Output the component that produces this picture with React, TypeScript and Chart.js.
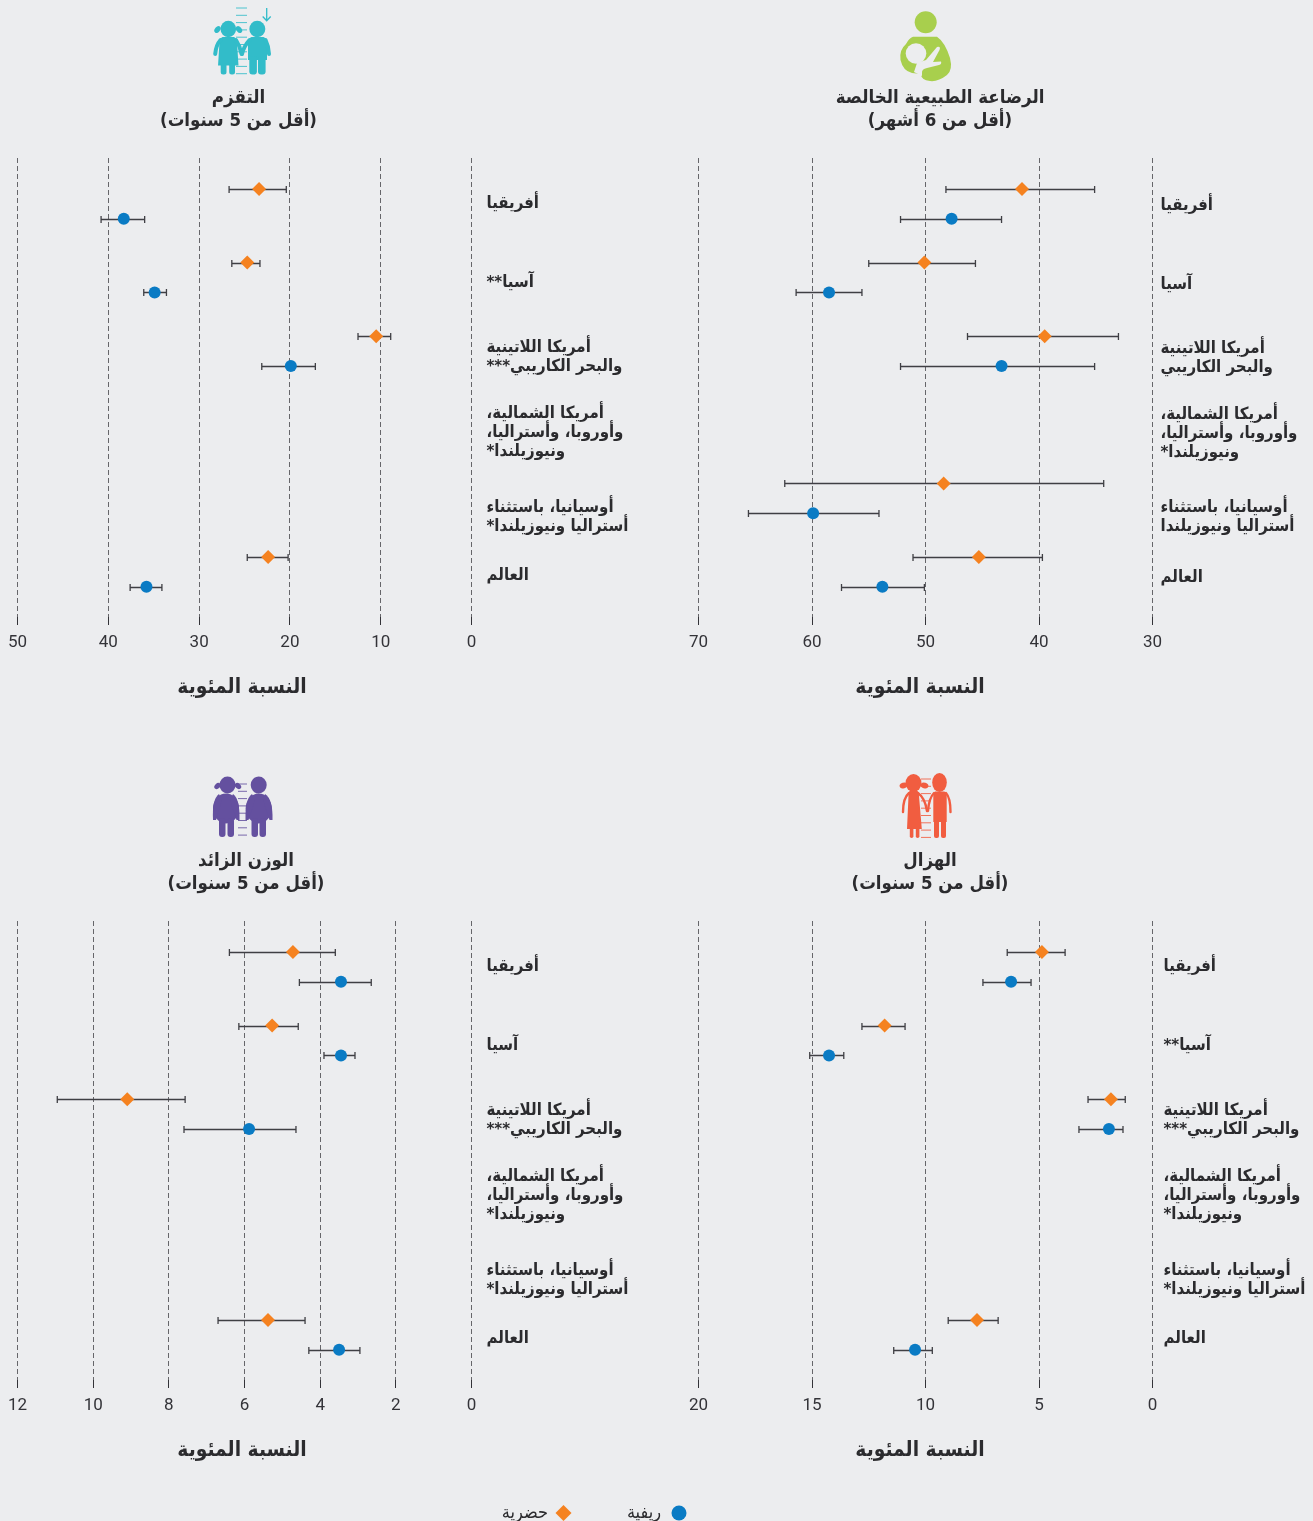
import React, { useEffect, useRef } from "react";
import { Chart, registerables } from "chart.js";

Chart.register(...registerables);

const BG = "#ecedef";
const ORANGE = "#f58220";
const BLUE = "#0a7bc4";
const TEXT = "#2b2b2e";
const ARABIC = '"DejaVu Sans Condensed", "DejaVu Sans", sans-serif';
const NUMERIC = "Roboto, sans-serif";

const stuntingLabels = [
  "أفريقيا", "آسيا**", ["أمريكا اللاتينية", "والبحر الكاريبي***"],
  ["أمريكا الشمالية،", "وأوروبا، وأستراليا،", "ونيوزيلندا*"],
  ["أوسيانيا، باستثناء", "أستراليا ونيوزيلندا*"], "العالم",
];
const breastfeedingLabels = [
  "أفريقيا", "آسيا", ["أمريكا اللاتينية", "والبحر الكاريبي"],
  ["أمريكا الشمالية،", "وأوروبا، وأستراليا،", "ونيوزيلندا*"],
  ["أوسيانيا، باستثناء", "أستراليا ونيوزيلندا"], "العالم",
];
const overweightLabels = [
  "أفريقيا", "آسيا", ["أمريكا اللاتينية", "والبحر الكاريبي***"],
  ["أمريكا الشمالية،", "وأوروبا، وأستراليا،", "ونيوزيلندا*"],
  ["أوسيانيا، باستثناء", "أستراليا ونيوزيلندا*"], "العالم",
];
const wastingLabels = stuntingLabels;

const labelRows = [0.205, 1.275, 2.285, 3.315, 4.455, 5.255];
const labelRowsBreastfeeding = [0.225, 1.305, 2.295, 3.325, 4.455, 5.285];

const stuntingUrban = [23.4, 24.7, 10.5, null, null, 22.4];
const stuntingUrbanLow = [20.4, 23.3, 8.9, null, null, 20.2];
const stuntingUrbanHigh = [26.7, 26.4, 12.5, null, null, 24.7];
const stuntingRural = [38.3, 34.9, 19.9, null, null, 35.8];
const stuntingRuralLow = [36.0, 33.6, 17.2, null, null, 34.1];
const stuntingRuralHigh = [40.8, 36.1, 23.1, null, null, 37.6];

const breastfeedingUrban = [41.5, 50.1, 39.5, null, 48.4, 45.3];
const breastfeedingUrbanLow = [35.1, 45.6, 33.0, null, 34.3, 39.7];
const breastfeedingUrbanHigh = [48.2, 55.0, 46.3, null, 62.4, 51.1];
const breastfeedingRural = [47.7, 58.5, 43.3, null, 59.9, 53.8];
const breastfeedingRuralLow = [43.3, 55.6, 35.1, null, 54.1, 50.1];
const breastfeedingRuralHigh = [52.2, 61.4, 52.2, null, 65.6, 57.4];

const overweightUrban = [4.72, 5.27, 9.1, null, null, 5.38];
const overweightUrbanLow = [3.6, 4.58, 7.57, null, null, 4.4];
const overweightUrbanHigh = [6.4, 6.15, 10.95, null, null, 6.7];
const overweightRural = [3.45, 3.45, 5.88, null, null, 3.5];
const overweightRuralLow = [2.65, 3.08, 4.64, null, null, 2.95];
const overweightRuralHigh = [4.55, 3.9, 7.6, null, null, 4.3];

const wastingUrban = [4.87, 11.8, 1.83, null, null, 7.73];
const wastingUrbanLow = [3.85, 10.9, 1.2, null, null, 6.8];
const wastingUrbanHigh = [6.4, 12.8, 2.84, null, null, 9.0];
const wastingRural = [6.23, 14.25, 1.92, null, null, 10.46];
const wastingRuralLow = [5.35, 13.6, 1.3, null, null, 9.7];
const wastingRuralHigh = [7.47, 15.1, 3.24, null, null, 11.4];

const AXIS_TITLE = "النسبة المئوية";
const URBAN_LABEL = "حضرية";
const RURAL_LABEL = "ريفية";

const RURAL_ROW_OFFSET = 0.405;

function points(values: any[], low: any[], high: any[], offset: number) {
  const out: any[] = [];
  values.forEach((v, i) => {
    if (v !== null) out.push({ x: v, y: i + offset, low: low[i], high: high[i] });
  });
  return out;
}

const whiskerPlugin = {
  id: "whiskers",
  beforeDatasetsDraw(chart: any) {
    const { ctx, scales } = chart;
    ctx.save();
    ctx.strokeStyle = "#3f3f44";
    ctx.lineWidth = 1.3;
    chart.data.datasets.forEach((ds: any) => {
      ds.data.forEach((p: any) => {
        const y = Math.round(scales.y.getPixelForValue(p.y)) + 0.5;
        const a = scales.x.getPixelForValue(p.low);
        const b = scales.x.getPixelForValue(p.high);
        ctx.beginPath();
        ctx.moveTo(a, y);
        ctx.lineTo(b, y);
        ctx.moveTo(a, y - 3.5);
        ctx.lineTo(a, y + 3.5);
        ctx.moveTo(b, y - 3.5);
        ctx.lineTo(b, y + 3.5);
        ctx.stroke();
      });
    });
    ctx.restore();
  },
};

function headerPlugin(panel: any) {
  return {
    id: "panelHeader",
    afterDraw(chart: any) {
      const { ctx } = chart;
      ctx.save();
      ctx.direction = "rtl";
      ctx.textAlign = "center";
      ctx.textBaseline = "middle";
      ctx.fillStyle = TEXT;
      ctx.font = `bold 18.5px ${ARABIC}`;
      ctx.fillText(panel.title[0], panel.titleX, 18);
      ctx.fillText(panel.title[1], panel.titleX, 41.5);
      ctx.font = `bold 20.8px ${ARABIC}`;
      ctx.fillText(AXIS_TITLE, panel.axisTitleX, 608);
      ctx.restore();
    },
  };
}

function Panel({ panel }: { panel: any }) {
  const ref = useRef<HTMLCanvasElement>(null);
  useEffect(() => {
    const chart = new Chart(ref.current as any, {
      type: "scatter",
      data: {
        datasets: [
          {
            label: URBAN_LABEL,
            data: points(panel.urban, panel.urbanLow, panel.urbanHigh, 0),
            pointStyle: "rectRot",
            pointRadius: 7,
            backgroundColor: ORANGE,
            borderWidth: 0,
          },
          {
            label: RURAL_LABEL,
            data: points(panel.rural, panel.ruralLow, panel.ruralHigh, RURAL_ROW_OFFSET),
            pointStyle: "circle",
            pointRadius: 6,
            backgroundColor: BLUE,
            borderWidth: 0,
          },
        ],
      } as any,
      plugins: [whiskerPlugin, headerPlugin(panel)],
      options: {
        animation: false,
        responsive: false,
        events: [],
        layout: { padding: { left: panel.plotLeft, top: 78, right: 0, bottom: 0 } },
        plugins: { legend: { display: false }, tooltip: { enabled: false }, title: { display: false } },
        scales: {
          x: {
            type: "linear",
            reverse: true,
            min: panel.min,
            max: panel.max,
            position: "bottom",
            afterFit(s: any) { s.height = 93; },
            border: { display: false, dash: [5, 3] },
            grid: { color: "#66666a", lineWidth: 1, drawTicks: true, tickLength: 8, tickColor: "#333338", tickWidth: 1 },
            ticks: {
              stepSize: panel.step,
              padding: 8,
              maxRotation: 0,
              color: "#333338",
              font: { family: NUMERIC, size: 17 },
            },
          },
          y: {
            type: "linear",
            reverse: true,
            position: "right",
            min: -0.421,
            max: 5.815,
            afterFit(s: any) { s.width = panel.width - panel.plotRight; },
            afterBuildTicks(s: any) { s.ticks = panel.rows.map((v: number) => ({ value: v })); },
            border: { display: false },
            grid: { display: false, drawTicks: false, tickLength: 0 },
            ticks: {
              autoSkip: false,
              padding: panel.labelGap,
              color: TEXT,
              font: { family: ARABIC, size: 16.7, weight: "bold", lineHeight: 1.13 },
              callback: (_v: any, i: number) => panel.labels[i],
            },
          },
        },
      } as any,
    });
    return () => chart.destroy();
  }, [panel]);
  return (
    <canvas
      ref={ref}
      dir="rtl"
      width={panel.width}
      height={630}
      style={{ position: "absolute", left: panel.left, top: panel.top, width: panel.width, height: 630 }}
    />
  );
}

const panels = [
  {
    key: "stunting", left: 0, top: 80, width: 656, plotLeft: 17.5, plotRight: 471.5, min: 0, max: 50, step: 10,
    title: ["التقزم", "(أقل من 5 سنوات)"], titleX: 238.5, axisTitleX: 242, labelGap: 15, labels: stuntingLabels, rows: labelRows,
    urban: stuntingUrban, urbanLow: stuntingUrbanLow, urbanHigh: stuntingUrbanHigh,
    rural: stuntingRural, ruralLow: stuntingRuralLow, ruralHigh: stuntingRuralHigh,
  },
  {
    key: "breastfeeding", left: 660, top: 80, width: 653, plotLeft: 38.5, plotRight: 492.5, min: 30, max: 70, step: 10,
    title: ["الرضاعة الطبيعية الخالصة", "(أقل من 6 أشهر)"], titleX: 280, axisTitleX: 260, labelGap: 8, labels: breastfeedingLabels, rows: labelRowsBreastfeeding,
    urban: breastfeedingUrban, urbanLow: breastfeedingUrbanLow, urbanHigh: breastfeedingUrbanHigh,
    rural: breastfeedingRural, ruralLow: breastfeedingRuralLow, ruralHigh: breastfeedingRuralHigh,
  },
  {
    key: "overweight", left: 0, top: 843, width: 656, plotLeft: 17.5, plotRight: 471.5, min: 0, max: 12, step: 2,
    title: ["الوزن الزائد", "(أقل من 5 سنوات)"], titleX: 246, axisTitleX: 242, labelGap: 15, labels: overweightLabels, rows: labelRows,
    urban: overweightUrban, urbanLow: overweightUrbanLow, urbanHigh: overweightUrbanHigh,
    rural: overweightRural, ruralLow: overweightRuralLow, ruralHigh: overweightRuralHigh,
  },
  {
    key: "wasting", left: 660, top: 843, width: 653, plotLeft: 38.5, plotRight: 492.5, min: 0, max: 20, step: 5,
    title: ["الهزال", "(أقل من 5 سنوات)"], titleX: 270, axisTitleX: 260, labelGap: 11, labels: wastingLabels, rows: labelRows,
    urban: wastingUrban, urbanLow: wastingUrbanLow, urbanHigh: wastingUrbanHigh,
    rural: wastingRural, ruralLow: wastingRuralLow, ruralHigh: wastingRuralHigh,
  },
];

function Ruler({ x, w, top, bottom, color, step = 7.3 }: any) {
  const ys: number[] = [];
  for (let y = top; y <= bottom; y += step) ys.push(y);
  return <g stroke={color} strokeWidth={1} opacity={0.85}>{ys.map((y) => <line key={y} x1={x} x2={x + w} y1={y} y2={y} />)}</g>;
}

function Icons() {
  const teal = "#32bcc9", green = "#a8cf4d", purple = "#64509f", red = "#f15d40";
  return (
    <svg width={1313} height={1521} style={{ position: "absolute", left: 0, top: 0, pointerEvents: "none" }}>
      {/* stunting */}
      <Ruler x={236} w={11} top={8} bottom={75} color={teal} />
      <path d="M266.7 8 V20.5 M262.7 16.5 L266.7 20.8 L270.7 16.5" stroke={teal} strokeWidth={1.3} fill="none" />
      <g fill={teal}>
        <ellipse cx={228.3} cy={29} rx={7.8} ry={8.3} />
        <ellipse cx={217.5} cy={29.5} rx={3.8} ry={2.6} transform="rotate(-50 217.5 29.5)" />
        <ellipse cx={239} cy={29.5} rx={3.8} ry={2.6} transform="rotate(50 239 29.5)" />
        <path d="M222.5 37 H234 Q236.5 38 237 42 L238.5 65.5 H218 L219.5 42 Q220 38 222.5 37 Z" />
        <rect x={220.7} y={63} width={5.8} height={11.5} rx={2.5} />
        <rect x={229.2} y={63} width={5.8} height={11.5} rx={2.5} />
        <ellipse cx={257.3} cy={29} rx={8} ry={8.3} />
        <path d="M251.5 37 H263.5 Q266.5 38 267 42 V60 H248 V42 Q248.5 38 251.5 37 Z" />
        <rect x={249.3} y={56} width={7.6} height={18.5} rx={3} />
        <rect x={258} y={56} width={7.6} height={18.5} rx={3} />
      </g>
      <g fill="none" stroke={teal} strokeWidth={4} strokeLinecap="round">
        <path d="M220.5 40 Q216 45 215.2 54" />
        <path d="M236 40 Q240 46 241.5 54" />
        <path d="M249.5 40 Q244 46 242 54" />
        <path d="M265.5 40 Q268.5 46 269 54" />
      </g>
      {/* breastfeeding */}
      <circle cx={925.7} cy={22.3} r={11} fill={green} />
      <path d="M913 36.7 H937 Q945 42 950 58 Q953 70 947 75 Q938 82 930 81 Q921 80 921 74 L912 73 Q903 71 900.5 60 Q899 50 906 44 Q909 38 913 36.7 Z" fill={green} />
      <circle cx={916} cy={53.5} r={10.3} fill={BG} />
      <path d="M937 47 Q941 46 939.5 50 L933 62 L941 61.5 Q942 64 939 65 L927 68 Q921.5 69 922 73 L922 76 L914 72 L917 63 L926 60 Z" fill={BG} />
      {/* overweight */}
      <Ruler x={238} w={9} top={784} bottom={837} color={purple} />
      <g fill={purple}>
        <ellipse cx={227.5} cy={785} rx={8} ry={8.5} />
        <ellipse cx={217.5} cy={786} rx={3.6} ry={2.6} transform="rotate(-45 217.5 786)" />
        <ellipse cx={238} cy={786} rx={3.6} ry={2.6} transform="rotate(45 238 786)" />
        <ellipse cx={226} cy={808.5} rx={13} ry={15} />
        <path d="M219 794 Q212 799 213 820 H216 L222 800 Z" />
        <path d="M233 794 Q240 799 239.5 820 H236.5 L230 800 Z" />
        <rect x={219} y={818} width={6.5} height={19} rx={3} />
        <rect x={227.5} y={818} width={6.5} height={19} rx={3} />
        <ellipse cx={258.7} cy={785} rx={8} ry={8.5} />
        <ellipse cx={258.7} cy={808.5} rx={13} ry={15} />
        <path d="M252 794 Q245 799 245.5 820 H248.5 L255 800 Z" />
        <path d="M265 794 Q273 799 272.5 820 H269.5 L263 800 Z" />
        <rect x={251.5} y={818} width={6.5} height={19} rx={3} />
        <rect x={259.5} y={818} width={6.5} height={19} rx={3} />
      </g>
      {/* wasting */}
      <Ruler x={921} w={10} top={779} bottom={838} color={red} step={7.3} />
      <g fill={red}>
        <ellipse cx={913.5} cy={783} rx={8} ry={9} />
        <ellipse cx={903.5} cy={785.5} rx={4} ry={2.8} transform="rotate(-20 903.5 785.5)" />
        <ellipse cx={924.5} cy={785.5} rx={4} ry={2.8} transform="rotate(20 924.5 785.5)" />
        <path d="M909.5 791 H917.5 Q919 792 919 796 L921.8 829 H907 L908.5 796 Q908.5 792 909.5 791 Z" />
        <rect x={909.8} y={827} width={3.6} height={11} rx={1.8} />
        <rect x={915.8} y={827} width={3.6} height={11} rx={1.8} />
        <ellipse cx={939.5} cy={782.5} rx={7.3} ry={9.5} />
        <path d="M935 791.5 H944.5 Q946.7 792.5 946.7 796 V822 H933.3 V796 Q933.3 792.5 935 791.5 Z" />
        <rect x={934} y={820} width={5} height={18} rx={2} />
        <rect x={941} y={820} width={5} height={18} rx={2} />
        <g fill="none" stroke={red} strokeWidth={2.4} strokeLinecap="round">
          <path d="M909 793 Q903 798 903 812" />
          <path d="M918 793 Q925 798 927 811" />
          <path d="M934 793 Q929 798 928 811" />
          <path d="M946 793 Q950.5 798 950.5 812" />
        </g>
      </g>
      {/* legend markers */}
      <path d="M563.5 1505 L571.5 1513 L563.5 1521 L555.5 1513 Z" fill={ORANGE} />
      <circle cx={679} cy={1513} r={7.5} fill={BLUE} />
    </svg>
  );
}

function LegendText({ right, children }: any) {
  return (
    <span
      dir="rtl"
      style={{
        position: "absolute",
        right: 1313 - right,
        top: 1501,
        fontFamily: ARABIC,
        fontSize: 18,
        lineHeight: "22px",
        color: TEXT,
        whiteSpace: "nowrap",
      }}
    >
      {children}
    </span>
  );
}

export default function App() {
  useEffect(() => {
    document.body.style.margin = "0";
    document.body.style.background = BG;
    document.documentElement.style.background = BG;
  }, []);
  return (
    <div style={{ position: "relative", width: 1313, height: 1521, overflow: "hidden", background: BG }}>
      {panels.map((p) => <Panel key={p.key} panel={p} />)}
      <Icons />
      <LegendText right={661}>{RURAL_LABEL}</LegendText>
      <LegendText right={548}>{URBAN_LABEL}</LegendText>
    </div>
  );
}
